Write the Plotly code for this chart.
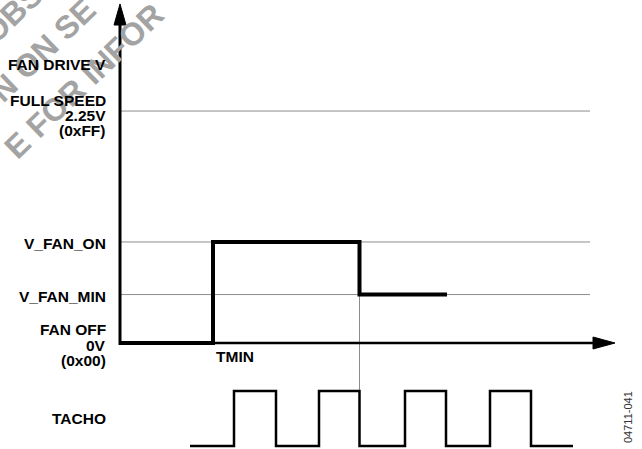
import plotly.graph_objects as go

# ---- data (abstract time units, volts) ----
FULL_SPEED = 2.25
V_FAN_ON = 0.98
V_FAN_MIN = 0.47
FAN_OFF = 0.0
drive_times = [0.0, 9.3, 23.95, 32.7]
drive_levels = [FAN_OFF, V_FAN_ON, V_FAN_MIN, V_FAN_MIN]
tacho_times = [7.0, 11.4, 15.6, 19.9, 23.95, 28.5, 32.6, 37.0, 41.1, 45.3]
tacho_levels = [0, 1, 0, 1, 0, 1, 0, 1, 0, 0]
ref_levels = [FULL_SPEED, V_FAN_ON, V_FAN_MIN]
T_REF_END = 47.0
T_AXIS_END = 49.5
V_AXIS_TOP = 3.288

# axis ranges
X_RANGE = [-12.0, 52.2]
Y_RANGE = [-1.028, 3.327]
Y2_RANGE = [-0.0545, 8.109]

W, H = 642, 449
px_per_t = W / (X_RANGE[1] - X_RANGE[0])
px_per_v = H / (Y_RANGE[1] - Y_RANGE[0])
px_per_y2 = H / (Y2_RANGE[1] - Y2_RANGE[0])

def paper_y(v, rng):
    return (v - rng[0]) / (rng[1] - rng[0])

BOLD = dict(family="Liberation Sans, Arial, sans-serif", size=15.5, color="black", weight="bold")
GRAY = "#8c8c8c"

fig = go.Figure()

# watermark (behind everything else)
WM = dict(family="Liberation Sans, Arial, sans-serif", size=32, color="#a3a3a3", weight="bold")
for txt, cx, cy in [("OBS", 12, 14), ("N ON SE", 43, 50), ("E FOR INFOR", 84, 81)]:
    fig.add_annotation(text=txt, x=cx / W, y=1 - cy / H, xref="paper", yref="paper",
                       textangle=-44, showarrow=False, font=WM, xanchor="center", yanchor="middle")

# reference levels
for lv in ref_levels:
    fig.add_trace(go.Scatter(x=[0, T_REF_END], y=[lv, lv], mode="lines",
                             line=dict(color=GRAY, width=1), hoverinfo="skip"))

# drive profile
fig.add_trace(go.Scatter(x=drive_times, y=drive_levels, mode="lines", line_shape="hv",
                         line=dict(color="black", width=4), hoverinfo="skip"))

# axes lines
ah_len_y = 21 / px_per_v
ah_half_w = 6 / px_per_t
fig.add_trace(go.Scatter(x=[0, 0], y=[-2 / px_per_v, V_AXIS_TOP - ah_len_y], mode="lines",
                         line=dict(color="black", width=3), hoverinfo="skip"))
fig.add_trace(go.Scatter(x=[-ah_half_w, ah_half_w, 0, -ah_half_w],
                         y=[V_AXIS_TOP - ah_len_y, V_AXIS_TOP - ah_len_y, V_AXIS_TOP, V_AXIS_TOP - ah_len_y],
                         mode="lines", fill="toself", fillcolor="black",
                         line=dict(color="black", width=1), hoverinfo="skip"))
ah_len_x = 22 / px_per_t
ah_half_h = 6 / px_per_v
fig.add_trace(go.Scatter(x=[0, T_AXIS_END - ah_len_x], y=[0, 0], mode="lines",
                         line=dict(color="black", width=2.5), hoverinfo="skip"))
fig.add_trace(go.Scatter(x=[T_AXIS_END - ah_len_x, T_AXIS_END - ah_len_x, T_AXIS_END, T_AXIS_END - ah_len_x],
                         y=[-ah_half_h, ah_half_h, 0, -ah_half_h],
                         mode="lines", fill="toself", fillcolor="black",
                         line=dict(color="black", width=1), hoverinfo="skip"))

# tacho
fig.add_trace(go.Scatter(x=tacho_times, y=tacho_levels, mode="lines", line_shape="hv",
                         line=dict(color="black", width=2.5), yaxis="y2", hoverinfo="skip"))

# vertical marker from drive drop to tacho edge
fig.add_shape(type="line", xref="x", yref="paper",
              x0=drive_times[2], x1=drive_times[2],
              y0=paper_y(V_FAN_ON, Y_RANGE), y1=paper_y(1, Y2_RANGE),
              line=dict(color=GRAY, width=1), layer="below")

# labels
LX = -1.2
def lab(text, y, yshift=0, yref="y"):
    fig.add_annotation(text=text, x=LX, y=y, xref="x", yref=yref, xanchor="right",
                       yanchor="middle", yshift=yshift, showarrow=False, font=BOLD)

lab("FAN DRIVE V", 2.706)
lab("FULL SPEED", FULL_SPEED, 11)
lab("2.25V", FULL_SPEED, -4)
lab("(0xFF)", FULL_SPEED, -19)
lab("V_FAN_ON", V_FAN_ON, -2)
lab("V_FAN_MIN", V_FAN_MIN, -2)
lab("FAN OFF", FAN_OFF, 14)
lab("0V", FAN_OFF, -2)
lab("(0x00)", FAN_OFF, -17)
lab("TACHO", 0.5, 0, "y2")
fig.add_annotation(text="TMIN", x=drive_times[1], y=0, xref="x", yref="y", xanchor="left",
                   yanchor="middle", xshift=1, yshift=-13, showarrow=False, font=BOLD)
fig.add_annotation(text="04711-041", x=628 / W, y=1 - 417 / H, xref="paper", yref="paper",
                   textangle=-90, showarrow=False, xanchor="center", yanchor="middle",
                   font=dict(family="Liberation Sans, Arial, sans-serif", size=11, color="#333333"))

fig.update_layout(
    width=W, height=H, margin=dict(l=0, r=0, t=0, b=0),
    paper_bgcolor="white", plot_bgcolor="white", showlegend=False,
    xaxis=dict(range=X_RANGE, visible=False, fixedrange=True),
    yaxis=dict(range=Y_RANGE, visible=False, fixedrange=True),
    yaxis2=dict(range=Y2_RANGE, visible=False, overlaying="y", fixedrange=True),
)
fig.write_html("out.html", config={"displayModeBar": False},
               post_script="document.body.style.margin='0';document.body.style.overflow='hidden';")
